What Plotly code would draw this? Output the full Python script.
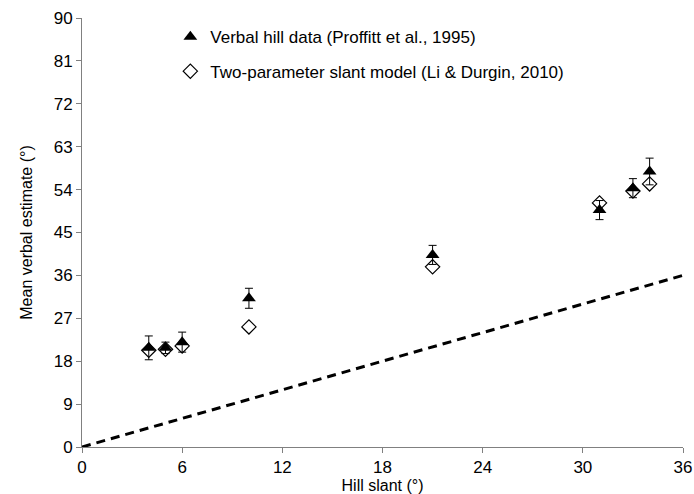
import plotly.graph_objects as go

hill_slant = [4, 5, 6, 10, 21, 31, 33, 34]
verbal_data = [20.8, 20.8, 22.0, 31.2, 40.3, 49.7, 54.3, 57.8]
verbal_err = [2.5, 1.2, 2.1, 2.1, 2.0, 2.0, 2.0, 2.8]
model_vals = [20.3, 20.5, 21.2, 25.2, 37.8, 51.2, 53.7, 55.2]
identity_x = [0, 36]
identity_y = [0, 36]

x_ticks = [0, 6, 12, 18, 24, 30, 36]
y_ticks = [0, 9, 18, 27, 36, 45, 54, 63, 72, 81, 90]

font_family = "Liberation Sans, Arial, sans-serif"

fig = go.Figure()

fig.add_trace(go.Scatter(
    x=identity_x, y=identity_y, mode="lines",
    line=dict(color="black", width=3, dash="9px,6px"),
    showlegend=False, hoverinfo="skip"))

fig.add_trace(go.Scatter(
    x=hill_slant, y=model_vals, mode="markers",
    name="Two-parameter slant model (Li & Durgin, 2010)",
    marker=dict(symbol="diamond-open", size=11, color="black",
                line=dict(width=1.2, color="black")),
    legend="legend2"))

fig.add_trace(go.Scatter(
    x=hill_slant, y=verbal_data, mode="markers",
    name="Verbal hill data (Proffitt et al., 1995)",
    marker=dict(symbol="triangle-up", size=12, color="black"),
    error_y=dict(type="data", array=verbal_err, color="black",
                 thickness=1, width=4),
    legend="legend"))

axis_common = dict(
    showline=True, linecolor="#808080", linewidth=1,
    ticks="outside", tickcolor="#808080", ticklen=5, tickwidth=1,
    showgrid=False, zeroline=False, automargin=False,
    tickfont=dict(family=font_family, size=17, color="#000000"),
)

fig.update_layout(
    width=694, height=494,
    margin=dict(l=82, r=11, t=18, b=47),
    plot_bgcolor="white", paper_bgcolor="white",
    font=dict(family=font_family, size=16, color="#000000"),
    xaxis=dict(range=[0, 36], tickvals=x_ticks,
               title=dict(text="Hill slant (°)", standoff=4,
                          font=dict(family=font_family, size=16, color="#000000")),
               **axis_common),
    yaxis=dict(range=[0, 90], tickvals=y_ticks,
               title=dict(text="Mean verbal estimate (°)", standoff=17,
                          font=dict(family=font_family, size=16, color="#000000")),
               **axis_common),
    legend=dict(x=0.147, y=0.955, xanchor="left", yanchor="middle",
                bgcolor="rgba(0,0,0,0)", itemwidth=30,
                font=dict(family=font_family, size=17, color="#000000")),
    legend2=dict(x=0.147, y=0.875, xanchor="left", yanchor="middle",
                 bgcolor="rgba(0,0,0,0)", itemwidth=30,
                 font=dict(family=font_family, size=17, color="#000000")),
)

fig.write_html("out.html", config={"displayModeBar": False},
               post_script="document.body.style.margin='0';")
